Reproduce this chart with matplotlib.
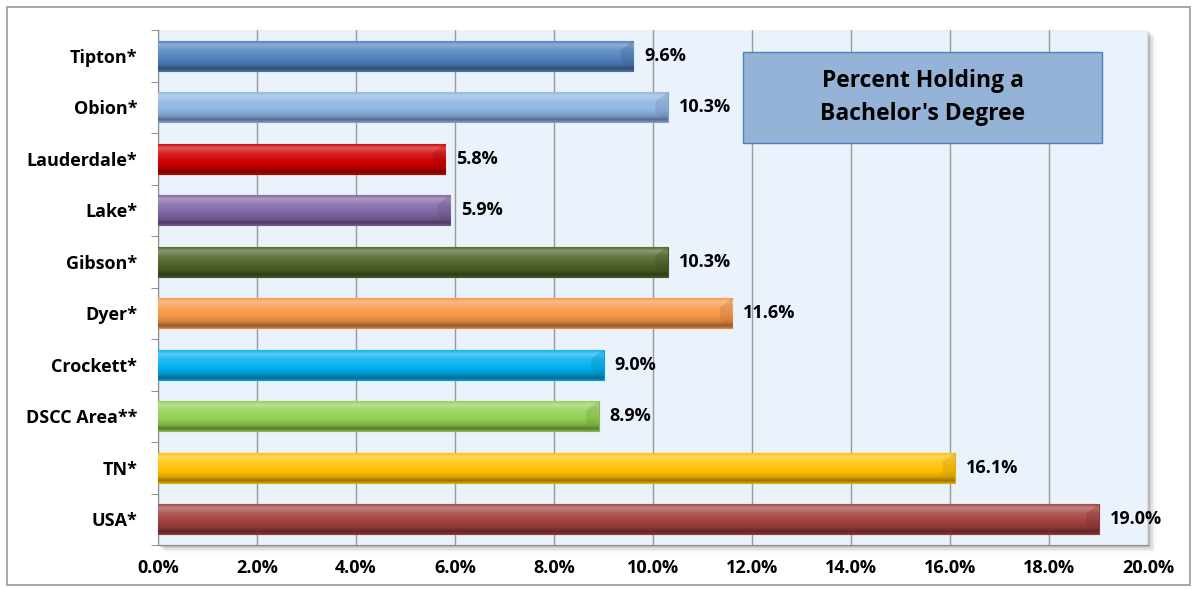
import numpy as np
import matplotlib.pyplot as plt
import matplotlib.patches as mpatches
from matplotlib.colors import to_rgb

# ------------------------------------------------------------
# data (top to bottom)
counties = ['Tipton*', 'Obion*', 'Lauderdale*', 'Lake*', 'Gibson*',
            'Dyer*', 'Crockett*', 'DSCC Area**', 'TN*', 'USA*']
pct = [9.6, 10.3, 5.8, 5.9, 10.3, 11.6, 9.0, 8.9, 16.1, 19.0]
colors = ['#4F81BD', '#8DB4E2', '#D00000', '#8064A2', '#4F6228',
          '#F79646', '#00B0F0', '#92D050', '#FFC000', '#A0403E']
title = "Percent Holding a\nBachelor's Degree"
xticks = np.arange(0, 21, 2)

plt.rcParams['font.family'] = ['Open Sans', 'DejaVu Sans']
FS = 13


def shade(c, f):
    c = np.array(to_rgb(c))
    if f >= 0:
        return c + (1 - c) * f
    return c * (1 + f)


def gradient_bar(ax, patch, color):
    x0, y0 = patch.get_x(), patch.get_y()
    w, h = patch.get_width(), patch.get_height()
    # vertical profile: highlight near the top, darker band at the bottom
    t = np.linspace(0, 1, 64)
    prof = np.interp(t, [0, 0.12, 0.3, 0.6, 0.8, 0.92, 1.0],
                     [0.05, 0.35, 0.15, 0.0, -0.15, -0.4, -0.2])
    img = np.array([shade(color, f) for f in prof])[:, None, :]
    img = np.clip(img, 0, 1)
    im = ax.imshow(img, extent=(x0, x0 + w, y0 + h, y0), aspect='auto',
                   origin='upper', zorder=3, interpolation='bilinear')
    im.set_clip_path(patch)
    # bevel on the right end
    x1 = x0 + w
    bev = mpatches.Polygon([[x1, y0], [x1 - 0.25, y0 + h * 0.3],
                            [x1 - 0.25, y0 + h * 0.7], [x1, y0 + h]],
                           closed=True, facecolor=shade(color, -0.3),
                           edgecolor='none', alpha=0.25, zorder=4)
    ax.add_patch(bev)


fig = plt.figure(figsize=(11.94, 5.89), dpi=100)

# outer chart frame
fig.patches.append(mpatches.Rectangle((7 / 1194, 4 / 589), 1183 / 1194, 578 / 589,
                                      transform=fig.transFigure, facecolor='white',
                                      edgecolor='#9A9A9A', linewidth=1.2, zorder=-3))

ax = fig.add_axes([158 / 1194, 44 / 589, 990 / 1194, 515 / 589])

# soft shadow behind plot area
for i, a in enumerate([0.10, 0.08, 0.06, 0.04, 0.02]):
    d = (i + 1) * 1.5
    fig.patches.append(mpatches.Rectangle(((158 + d) / 1194, (44 - d) / 589),
                                          990 / 1194, 515 / 589,
                                          transform=fig.transFigure,
                                          facecolor='black', alpha=a,
                                          edgecolor='none', zorder=-2))

ax.set_facecolor('#EAF2FB')
ypos = np.arange(len(counties))
bars = ax.barh(ypos, pct, height=0.58, color=colors, edgecolor='none', zorder=3)
for b, c in zip(bars, colors):
    b.set_facecolor('none')
    gradient_bar(ax, b, c)
    b.set_edgecolor(shade(c, -0.1))
    b.set_linewidth(0.8)

for y, v in zip(ypos, pct):
    ax.annotate(f'{v:.1f}%', (v, y), xytext=(8, 0), textcoords='offset points',
                va='center', ha='left', fontsize=FS, fontweight='bold', zorder=5)

ax.set_xlim(0, 20)
ax.set_ylim(len(counties) - 0.5, -0.5)
ax.set_xticks(xticks)
ax.set_xticklabels([f'{x:.1f}%' for x in xticks], fontsize=FS, fontweight='bold')
ax.set_yticks(ypos)
ax.set_yticklabels(counties, fontsize=FS, fontweight='bold')
ax.set_yticks(np.arange(-0.5, len(counties)), minor=True)
ax.tick_params(axis='y', which='major', length=0, pad=15)
ax.tick_params(axis='y', which='minor', length=5, color='#7F7F7F', direction='out')
ax.tick_params(axis='x', length=0, pad=10)
ax.grid(axis='x', color='#9A9A9A', linewidth=1.0, zorder=1)
ax.set_axisbelow(True)

for s in ['top', 'right']:
    ax.spines[s].set_visible(False)
ax.spines['left'].set_color('#8C8C8C')
ax.spines['bottom'].set_color('#8C8C8C')

# title box
ax.add_patch(mpatches.Rectangle((0.591, 0.781), 0.3625, 0.176, transform=ax.transAxes,
                                facecolor='#95B3D7', edgecolor='#4F81BD',
                                linewidth=1.0, zorder=6))
ax.text(0.7725, 0.869, title, transform=ax.transAxes, ha='center', va='center',
        fontsize=16.5, fontweight='bold', linespacing=1.55, zorder=7)

fig.savefig('out.png', dpi=100)
